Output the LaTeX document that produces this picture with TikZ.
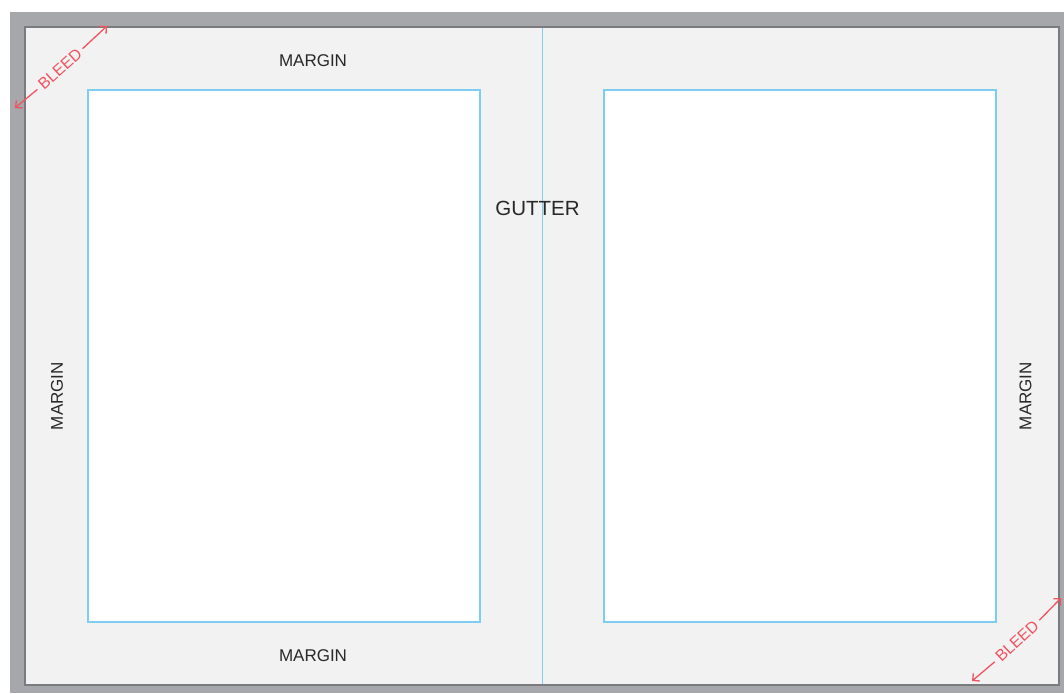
\documentclass[tikz,border=0pt]{standalone}
\usepackage{fontspec}
\setmainfont{Liberation Sans}
\usetikzlibrary{arrows.meta}
\definecolor{framegray}{RGB}{166,167,170}
\definecolor{edgegray}{RGB}{122,123,126}
\definecolor{sheet}{RGB}{242,242,242}
\definecolor{guide}{RGB}{125,205,240}
\definecolor{bleedred}{RGB}{240,84,96}
\definecolor{labelgray}{RGB}{40,40,40}
\tikzset{
  pagebox/.style={draw=guide, line width=1.2pt, fill=white, inner sep=0pt},
  marginlabel/.style={font=\fontsize{17}{17}\selectfont, text=labelgray, inner sep=0pt},
  gutterlabel/.style={font=\fontsize{20.5}{20.5}\selectfont, text=labelgray, inner sep=0pt},
  bleedlabel/.style={font=\fontsize{16}{16}\selectfont, text=bleedred, inner xsep=4pt, inner ysep=0pt},
  bleedarrow/.style={draw=bleedred, line width=1.3pt, -{Straight Barb[length=5pt,width=10pt]}},
}
\begin{document}
\begin{tikzpicture}[x=1pt,y=-1pt]
  \useasboundingbox (0,0) rectangle (1064,693);
  % spread with bleed frame
  \fill[framegray] (10,12) rectangle (1064,693);
  \fill[sheet] (26,28) rectangle (1058,684);
  \draw[edgegray, line width=1.6pt] (25.2,27.2) rectangle (1058.8,684.8);
  % gutter fold
  \coordinate (foldtop) at (542,28);
  \coordinate (foldbot) at (542,684);
  \draw[guide, line width=1pt] (foldtop) -- (foldbot);
  % live areas of the two pages
  \node[pagebox, minimum width=392pt, minimum height=532pt] (leftpage) at (284,356) {};
  \node[pagebox, minimum width=392pt, minimum height=532pt] (rightpage) at (800,356) {};
  % labels
  \node[marginlabel] (mtop) at (313,61) {MARGIN};
  \node[marginlabel] (mbot) at (313,656) {MARGIN};
  \node[marginlabel, rotate=90] (mleft) at (57,396) {MARGIN};
  \node[marginlabel, rotate=90] (mright) at (1025.5,396) {MARGIN};
  \node[gutterlabel] (gutter) at (537.5,208) {GUTTER};
  % bleed callouts
  \node[bleedlabel, rotate=42] (bleedA) at (60,69) {BLEED};
  \coordinate (bleedAin) at (15,108);
  \coordinate (bleedAout) at (107,26);
  \draw[bleedarrow] (bleedA.west) -- (bleedAin);
  \draw[bleedarrow] (bleedA.east) -- (bleedAout);
  \node[bleedlabel, rotate=43] (bleedB) at (1017,641) {BLEED};
  \coordinate (bleedBin) at (972,681);
  \coordinate (bleedBout) at (1061,598);
  \draw[bleedarrow] (bleedB.west) -- (bleedBin);
  \draw[bleedarrow] (bleedB.east) -- (bleedBout);
\end{tikzpicture}
\end{document}
